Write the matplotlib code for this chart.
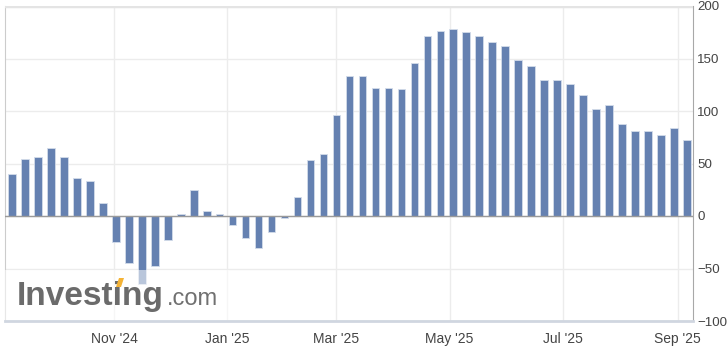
import numpy as np
import pandas as pd
import matplotlib
matplotlib.use('Agg')
import matplotlib.pyplot as plt
import matplotlib.dates as mdates
from matplotlib.patches import Rectangle, Polygon

## data ##
start_date = '2024-09-07'
values = [40, 54, 56, 65, 56, 36, 33, 12, -25, -45,
          -65, -48, -23, 2, 25, 5, 2, -9, -21, -30,
          -15, -2, 18, 53, 59, 96, 133, 133, 122, 122,
          121, 146, 171, 176, 178, 175, 171, 166, 162, 149,
          143, 130, 130, 126, 115, 102, 106, 88, 81, 81,
          77, 84, 72]
dates = pd.date_range(start_date, periods=len(values), freq='7D')
yticks = [-100, -50, 0, 50, 100, 150, 200]

bar_color = '#6581b1'
grid_color = '#ececec'
text_color = '#444444'

plt.rcParams['font.family'] = ['Liberation Sans', 'DejaVu Sans']

fig = plt.figure(figsize=(7.27, 3.49), dpi=100)
ax = fig.add_axes([5/727, 1 - 321/349, 688/727, 315/349])

ax.bar(dates, values, width=4.1, color=bar_color, edgecolor='#d3dcea',
       linewidth=0.6, zorder=3)

ax.set_xlim(dates[0] - pd.Timedelta(days=3.8), dates[-1] + pd.Timedelta(days=3.3))
ax.set_ylim(-100, 200)

# grid
ax.set_yticks(yticks)
ax.yaxis.tick_right()
ax.xaxis.set_major_locator(mdates.MonthLocator(bymonth=[1, 3, 5, 7, 9, 11]))
ax.xaxis.set_major_formatter(mdates.DateFormatter("%b '%y"))
ax.grid(True, color=grid_color, linewidth=1, zorder=0)
ax.axhline(0, color='#9a9a9a', linewidth=1, zorder=4)
ax.axhline(200, color='#e4e4e4', linewidth=2.5, zorder=4)
ax.tick_params(axis='both', length=0, labelsize=10, labelcolor=text_color)
ax.tick_params(axis='y', pad=3)
ax.tick_params(axis='x', pad=8)
for lab in ax.get_yticklabels():
    lab.set_fontsize(9.6)

ax.spines['top'].set_visible(False)
ax.spines['left'].set_color('#cccccc')
ax.spines['right'].set_color('#a8a8a8')
ax.spines['bottom'].set_color('#d0d6e0')
ax.spines['bottom'].set_linewidth(2)
ax.spines['bottom'].set_zorder(7)

# watermark
ax.add_patch(Rectangle((0, 0), 0.325, 0.163, transform=ax.transAxes,
                       facecolor='white', alpha=0.55, edgecolor='none', zorder=5))
ax.text(0.017, 0.051, 'Investing', transform=ax.transAxes, fontsize=24,
        fontweight='bold', color='#6b6b6b', va='baseline', zorder=6)
ax.text(0.235, 0.051, '.com', transform=ax.transAxes, fontsize=17,
        color='#707070', va='baseline', zorder=6)
# orange accent on the i dot
px = lambda x, y: ((x - 5) / 688, (321 - y) / 315)
ax.add_patch(Polygon([px(116, 287), px(121, 287), px(124, 278), px(119, 278)],
                     closed=True, transform=ax.transAxes, facecolor='#f5b335',
                     edgecolor='none', zorder=7))

plt.savefig('out.png', dpi=100)
